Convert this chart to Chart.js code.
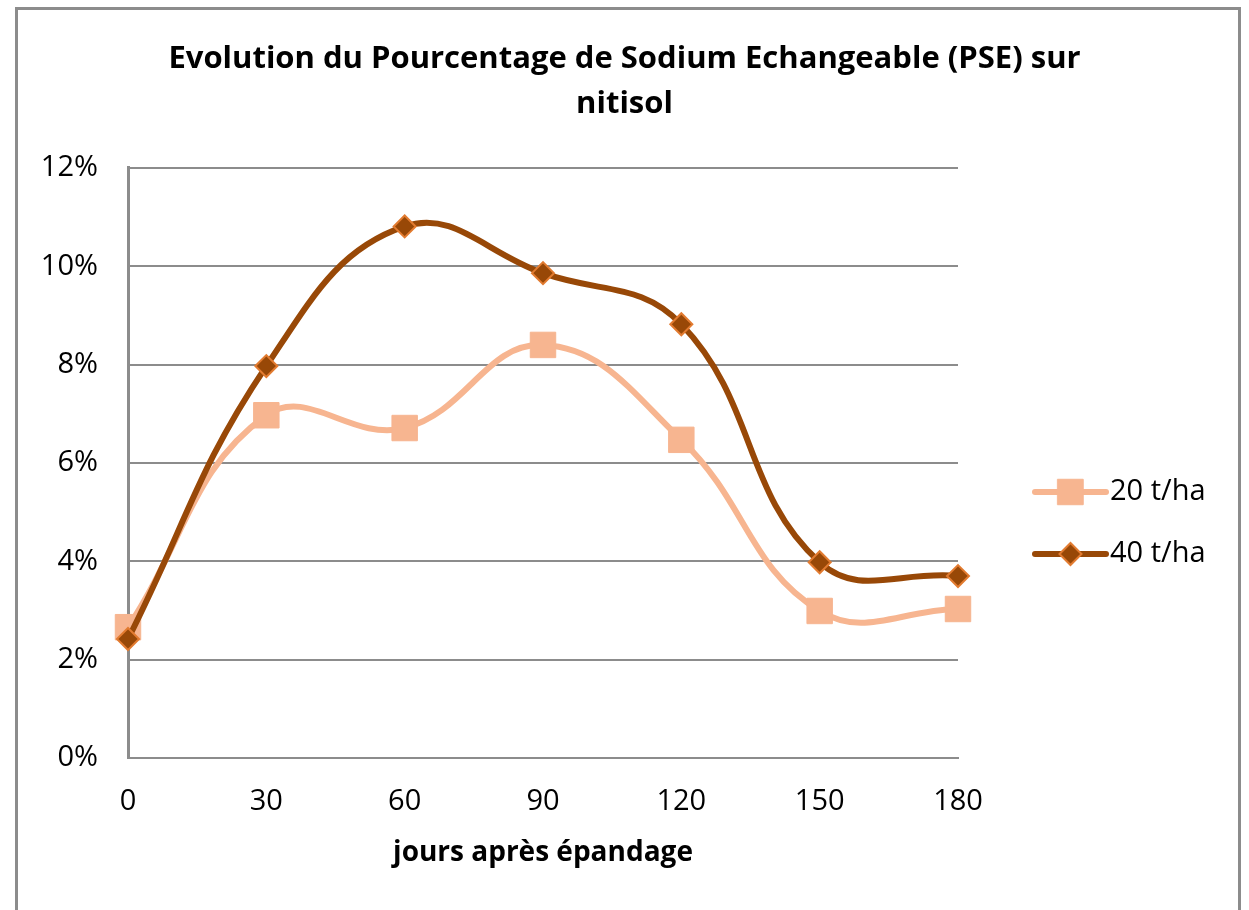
<!DOCTYPE html>
<html>
<head>
<meta charset="utf-8">
<script src="https://cdn.jsdelivr.net/npm/chart.js@4.4.0/dist/chart.umd.min.js"></script>
<style>
  html, body { margin: 0; padding: 0; background: #fff; overflow: hidden; }
  #frame { position: absolute; left: 15px; top: 7px; width: 1226px; height: 960px; border: 3px solid #8c8c8c; box-sizing: border-box; }
  #c { position: absolute; left: 0; top: 0; }
</style>
</head>
<body>
<div id="frame"></div>
<canvas id="c" width="1249" height="910"></canvas>
<script>
// data
const days = ['0', '30', '60', '90', '120', '150', '180'];
const pse20 = [0.0266, 0.0697, 0.0671, 0.0840, 0.0647, 0.0299, 0.0303];
const pse40 = [0.0242, 0.0797, 0.1081, 0.0986, 0.0882, 0.0398, 0.0370];
const seriesNames = ['20 t/ha', '40 t/ha'];

const FONT = '"Open Sans", Lato, sans-serif';
const light = '#f7b590';
const dark = '#984807';
const darkEdge = '#e27b30';
const gridGray = '#8c8c8c';

// legend drawn like Excel: short line with the marker on it
const lineLegend = {
  id: 'lineLegend',
  afterDraw(chart) {
    const ctx = chart.ctx;
    const x0 = 1035, x1 = 1106;
    const ys = [492, 554];
    chart.data.datasets.forEach((ds, i) => {
      const y = ys[i];
      ctx.save();
      ctx.strokeStyle = ds.borderColor;
      ctx.lineWidth = 6;
      ctx.lineCap = 'round';
      ctx.beginPath();
      ctx.moveTo(x0, y);
      ctx.lineTo(x1, y);
      ctx.stroke();
      ctx.fillStyle = ds.pointBackgroundColor;
      ctx.strokeStyle = ds.pointBorderColor;
      ctx.lineWidth = ds.pointBorderWidth;
      Chart.helpers.drawPoint(ctx, {
        pointStyle: ds.pointStyle,
        radius: ds.pointRadius,
        rotation: 0,
        borderWidth: ds.pointBorderWidth
      }, (x0 + x1) / 2, y);
      ctx.fillStyle = '#000';
      ctx.font = '29px ' + FONT;
      ctx.textBaseline = 'middle';
      ctx.fillText(ds.label, 1110, y);
      ctx.restore();
    });
  }
};

new Chart(document.getElementById('c'), {
  type: 'line',
  data: {
    labels: days,
    datasets: [
      {
        label: seriesNames[0],
        data: pse20,
        order: 2,
        borderColor: light,
        borderWidth: 6,
        tension: 0.42,
        pointStyle: 'rect',
        pointRadius: 18,
        pointBackgroundColor: light,
        pointBorderColor: light,
        pointBorderWidth: 1
      },
      {
        label: seriesNames[1],
        data: pse40,
        order: 1,
        borderColor: dark,
        borderWidth: 6,
        tension: 0.42,
        pointStyle: 'rectRot',
        pointRadius: 11,
        pointBackgroundColor: dark,
        pointBorderColor: darkEdge,
        pointBorderWidth: 2
      }
    ]
  },
  options: {
    responsive: false,
    animation: false,
    layout: { padding: { left: 0, right: 0, top: 22, bottom: 36 } },
    plugins: {
      legend: { display: false },
      tooltip: { enabled: false },
      title: {
        display: true,
        text: ['Evolution du Pourcentage de Sodium Echangeable (PSE) sur', 'nitisol'],
        color: '#000',
        font: { family: FONT, size: 31, weight: 'bold', lineHeight: 1.45 },
        padding: { top: 15, bottom: 41 }
      }
    },
    scales: {
      x: {
        grid: { display: false, drawTicks: false },
        border: { display: true, color: gridGray, width: 2 },
        ticks: { color: '#000', font: { family: FONT, size: 29 }, padding: 26, maxRotation: 0 },
        title: {
          display: true,
          text: 'jours après épandage',
          color: '#000',
          font: { family: FONT, size: 28, weight: 'bold' },
          padding: { top: 10, bottom: 4 }
        },
        afterFit(scale) { scale.height = 116; }
      },
      y: {
        min: 0,
        max: 0.12,
        ticks: {
          stepSize: 0.02,
          color: '#000',
          font: { family: FONT, size: 29 },
          padding: 30,
          callback: v => Math.round(v * 100) + '%'
        },
        grid: { color: gridGray, lineWidth: 2, drawTicks: false },
        border: { display: true, color: gridGray, width: 3 },
        afterFit(scale) { scale.width = 128; }
      },
      // empty box on the right that keeps room for the legend
      side: {
        position: 'right',
        display: true,
        grid: { display: false, drawTicks: false },
        border: { display: false },
        ticks: { display: false },
        afterFit(scale) { scale.width = 291; }
      }
    }
  },
  plugins: [lineLegend]
});
</script>
</body>
</html>
